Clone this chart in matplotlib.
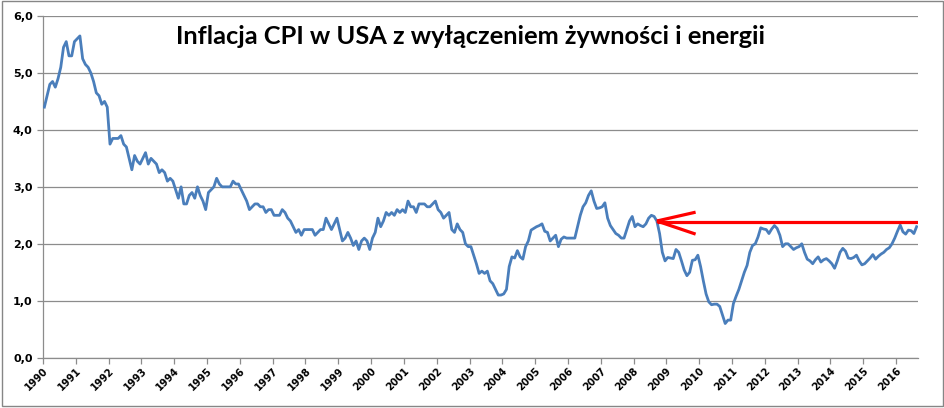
import numpy as np
import matplotlib.pyplot as plt
from matplotlib.patches import Rectangle

# core CPI (ex food & energy), % y/y, monthly, Jan 1990 - Aug 2016
cpi_1990 = [4.4, 4.6, 4.8, 4.85, 4.75, 4.9, 5.1, 5.45, 5.55, 5.3, 5.3, 5.55]
cpi_1991 = [5.6, 5.65, 5.25, 5.15, 5.1, 5.0, 4.85, 4.65, 4.6, 4.45, 4.5, 4.4]
cpi_1992 = [3.75, 3.85, 3.85, 3.85, 3.9, 3.75, 3.7, 3.5, 3.3, 3.55, 3.45, 3.4]
cpi_1993 = [3.5, 3.6, 3.4, 3.5, 3.45, 3.4, 3.25, 3.3, 3.25, 3.1, 3.15, 3.1]
cpi_1994 = [2.95, 2.8, 3.0, 2.7, 2.7, 2.85, 2.9, 2.8, 3.0, 2.85, 2.75, 2.6]
cpi_1995 = [2.9, 2.95, 3.0, 3.15, 3.05, 3.0, 3.0, 3.0, 3.0, 3.1, 3.05, 3.05]
cpi_1996 = [2.95, 2.85, 2.75, 2.6, 2.65, 2.7, 2.7, 2.65, 2.65, 2.55, 2.6, 2.6]
cpi_1997 = [2.5, 2.5, 2.5, 2.6, 2.55, 2.45, 2.4, 2.3, 2.2, 2.25, 2.15, 2.25]
cpi_1998 = [2.25, 2.25, 2.25, 2.15, 2.2, 2.25, 2.25, 2.45, 2.35, 2.25, 2.35, 2.45]
cpi_1999 = [2.25, 2.05, 2.1, 2.2, 2.1, 1.97, 2.05, 1.9, 2.05, 2.1, 2.05, 1.9]
cpi_2000 = [2.1, 2.2, 2.45, 2.3, 2.4, 2.55, 2.5, 2.55, 2.5, 2.6, 2.55, 2.6]
cpi_2001 = [2.55, 2.75, 2.65, 2.65, 2.55, 2.7, 2.7, 2.7, 2.65, 2.65, 2.7, 2.75]
cpi_2002 = [2.6, 2.55, 2.45, 2.5, 2.55, 2.25, 2.2, 2.35, 2.25, 2.2, 2.0, 1.95]
cpi_2003 = [1.95, 1.8, 1.65, 1.48, 1.52, 1.48, 1.52, 1.35, 1.3, 1.2, 1.1, 1.1]
cpi_2004 = [1.12, 1.2, 1.6, 1.77, 1.75, 1.88, 1.77, 1.73, 1.95, 2.05, 2.24, 2.27]
cpi_2005 = [2.3, 2.32, 2.35, 2.22, 2.2, 2.05, 2.1, 2.15, 1.95, 2.08, 2.12, 2.1]
cpi_2006 = [2.1, 2.1, 2.1, 2.3, 2.5, 2.65, 2.72, 2.85, 2.93, 2.75, 2.62, 2.63]
cpi_2007 = [2.65, 2.72, 2.45, 2.32, 2.25, 2.18, 2.15, 2.1, 2.1, 2.25, 2.4, 2.48]
cpi_2008 = [2.3, 2.35, 2.32, 2.3, 2.35, 2.45, 2.5, 2.48, 2.4, 2.18, 1.85, 1.7]
cpi_2009 = [1.76, 1.75, 1.74, 1.9, 1.85, 1.7, 1.54, 1.44, 1.5, 1.71, 1.72, 1.8]
cpi_2010 = [1.6, 1.35, 1.12, 0.98, 0.93, 0.94, 0.94, 0.9, 0.75, 0.6, 0.66, 0.66]
cpi_2011 = [0.95, 1.08, 1.2, 1.35, 1.5, 1.62, 1.85, 1.97, 2.0, 2.12, 2.28, 2.26]
cpi_2012 = [2.25, 2.18, 2.26, 2.32, 2.27, 2.15, 1.95, 2.0, 2.0, 1.95, 1.9, 1.93]
cpi_2013 = [1.95, 2.0, 1.85, 1.73, 1.7, 1.65, 1.72, 1.77, 1.68, 1.72, 1.74, 1.7]
cpi_2014 = [1.65, 1.57, 1.7, 1.85, 1.92, 1.87, 1.75, 1.74, 1.76, 1.8, 1.7, 1.63]
cpi_2015 = [1.65, 1.7, 1.75, 1.81, 1.73, 1.78, 1.82, 1.85, 1.9, 1.93, 2.0, 2.1]
cpi_2016 = [2.22, 2.33, 2.21, 2.17, 2.24, 2.23, 2.18, 2.3]

core_cpi = np.array(cpi_1990 + cpi_1991 + cpi_1992 + cpi_1993 + cpi_1994 + cpi_1995
                    + cpi_1996 + cpi_1997 + cpi_1998 + cpi_1999 + cpi_2000 + cpi_2001
                    + cpi_2002 + cpi_2003 + cpi_2004 + cpi_2005 + cpi_2006 + cpi_2007
                    + cpi_2008 + cpi_2009 + cpi_2010 + cpi_2011 + cpi_2012 + cpi_2013
                    + cpi_2014 + cpi_2015 + cpi_2016)

start_year = 1990
tick_years = list(range(1990, 2017))
tick_labels = [str(y) for y in tick_years]
y_ticks = [0, 1, 2, 3, 4, 5, 6]
y_labels = ['0,0', '1,0', '2,0', '3,0', '4,0', '5,0', '6,0']

# red arrow: level of Sep 2008 carried to the right edge
arrow_level = 2.39
arrow_tip_month = 224   # Sep 2008

title = 'Inflacja CPI w USA z wyłączeniem żywności i energii'

# month centres on a decimal-year axis
t = start_year + (np.arange(len(core_cpi)) + 0.5) / 12.0
x_end = start_year + len(core_cpi) / 12.0

fig = plt.figure(figsize=(9.45, 4.08), dpi=100)
ax = fig.add_axes([0.0455, 0.1233, 0.9259, 0.8375])

grid_col = '#8c8c8c'
ax.set_xlim(start_year, x_end)
ax.set_ylim(0, 6)
ax.set_yticks(y_ticks)
ax.set_yticklabels(y_labels, fontsize=8, fontweight='bold')
ax.set_xticks(tick_years)
ax.set_xticklabels(tick_labels, fontsize=7.2, fontweight='bold',
                   rotation=45, ha='right', va='top', rotation_mode='anchor')
ax.yaxis.grid(True, color=grid_col, linewidth=0.9)
ax.set_axisbelow(True)
for s in ['top', 'right']:
    ax.spines[s].set_visible(False)
for s in ['left', 'bottom']:
    ax.spines[s].set_color(grid_col)
    ax.spines[s].set_linewidth(0.9)
ax.tick_params(axis='both', colors=grid_col, length=4, width=0.9, labelcolor='black')
ax.tick_params(axis='x', pad=2)

ax.plot(t, core_cpi, color='#4a7ebb', linewidth=2.0, solid_joinstyle='round', zorder=3)

# arrow
tip_x = t[arrow_tip_month]
tip_y = core_cpi[arrow_tip_month]
ax.plot([tip_x, x_end], [arrow_level, arrow_level], color='#ff0000', linewidth=2.3,
        solid_capstyle='butt', zorder=4)
ax.plot([tip_x, 2009.89], [tip_y, 2.555], color='#ff0000', linewidth=2.3,
        solid_capstyle='butt', zorder=4)
ax.plot([tip_x, 2009.89], [tip_y, 2.17], color='#ff0000', linewidth=2.3,
        solid_capstyle='butt', zorder=4)

fig.text(0.498, 0.892, title, ha='center', va='baseline', fontsize=18.3,
         fontweight='bold', family=['Lato', 'DejaVu Sans'])

fig.patches.append(Rectangle((0.0016, 0.005), 0.9958, 0.9925, transform=fig.transFigure,
                             fill=False, edgecolor='#868686', linewidth=1.0))

fig.savefig('out.png', dpi=100, facecolor='white')
